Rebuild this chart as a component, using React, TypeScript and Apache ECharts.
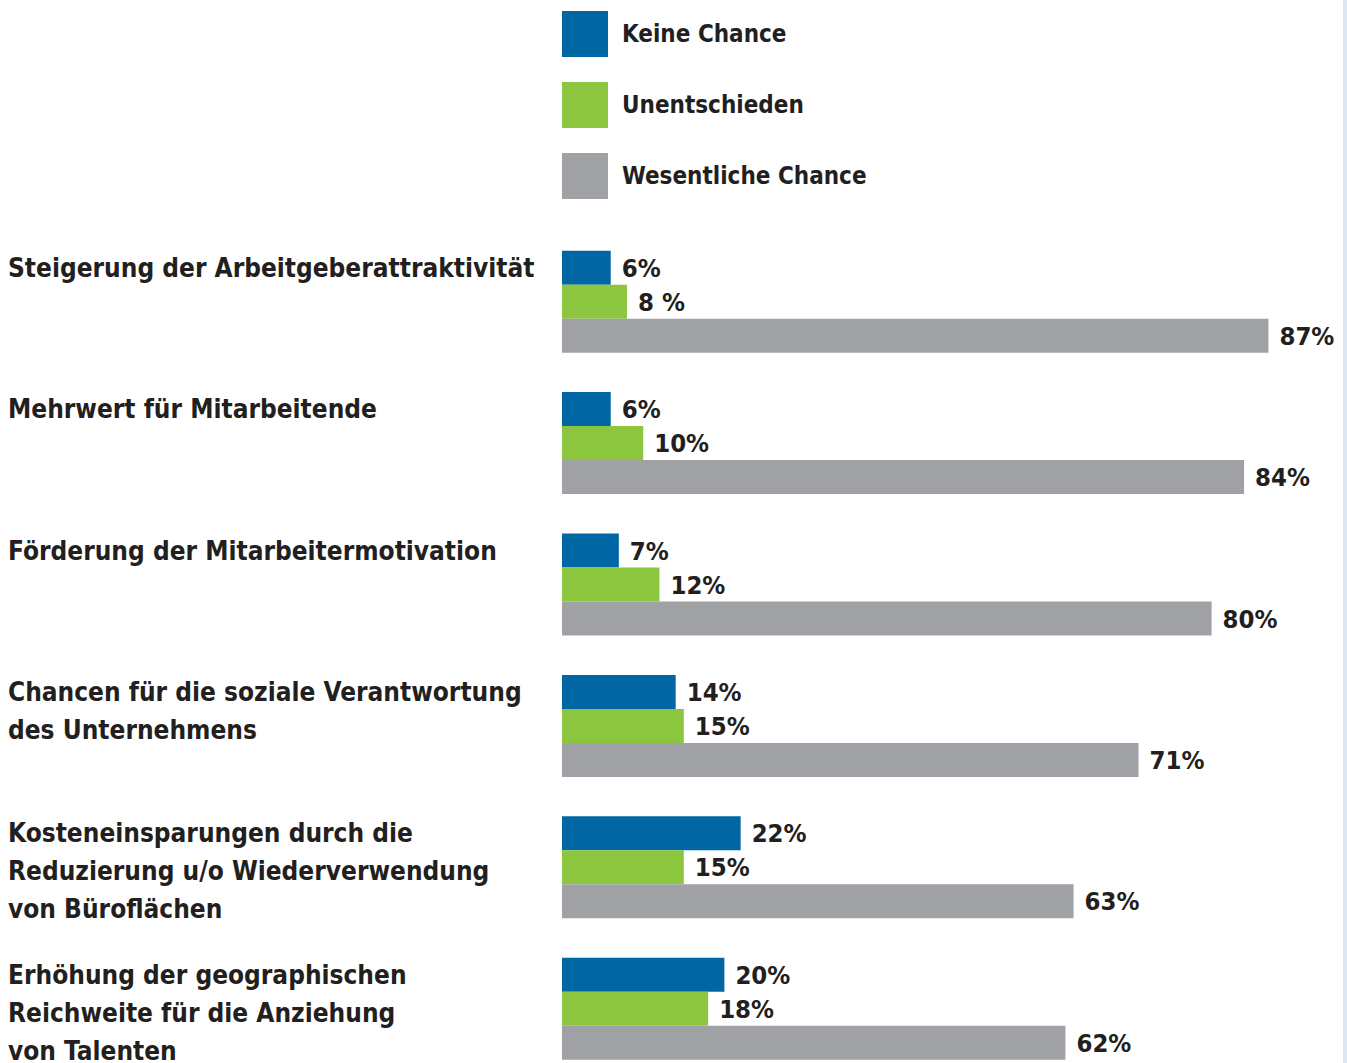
import React, { useEffect, useRef } from "react";
import * as echarts from "echarts";

const categories = [
  "Steigerung der Arbeitgeberattraktivität",
  "Mehrwert für Mitarbeitende",
  "Förderung der Mitarbeitermotivation",
  "Chancen für die soziale Verantwortung\ndes Unternehmens",
  "Kosteneinsparungen durch die\nReduzierung u/o Wiederverwendung\nvon Büroflächen",
  "Erhöhung der geographischen\nReichweite für die Anziehung\nvon Talenten",
];
const seriesNames = ["Keine Chance", "Unentschieden", "Wesentliche Chance"];
const keineChance = [6, 6, 7, 14, 22, 20];
const unentschieden = [8, 10, 12, 15, 15, 18];
const wesentlicheChance = [87, 84, 80, 71, 63, 62];
const keineLabels = ["6%", "6%", "7%", "14%", "22%", "20%"];
const unentschiedenLabels = ["8 %", "10%", "12%", "15%", "15%", "18%"];
const wesentlicheLabels = ["87%", "84%", "80%", "71%", "63%", "62%"];

const FONT = "'DejaVu Sans Condensed', 'Liberation Sans Narrow', sans-serif";
const TEXT = "#231f20";
const COLORS = ["#0066a4", "#8cc63f", "#a0a1a5"];

export default function App() {
  const ref = useRef<HTMLDivElement>(null);
  useEffect(() => {
    document.body.style.margin = "0";
    const chart = echarts.init(ref.current!, null, { renderer: "svg" });
    const values = [keineChance, unentschieden, wesentlicheChance];
    const labels = [keineLabels, unentschiedenLabels, wesentlicheLabels];
    chart.setOption({
      animation: false,
      textStyle: { fontFamily: FONT },
      legend: {
        orient: "vertical",
        left: 562,
        top: 11,
        padding: 0,
        itemWidth: 46,
        itemHeight: 46,
        itemGap: 25,
        icon: "rect",
        data: seriesNames,
        selectedMode: false,
        textStyle: {
          fontFamily: FONT,
          fontSize: 24,
          fontWeight: "bold",
          color: TEXT,
          padding: [2, 0, 0, 9],
        },
      },
      graphic: [
        {
          type: "rect",
          right: 0,
          top: 0,
          shape: { width: 4, height: 1063 },
          style: { fill: "#dde7f2" },
          silent: true,
        },
      ],
      grid: {
        left: 562,
        top: 231,
        width: 812,
        height: 848.4,
        containLabel: false,
        outerBoundsMode: "none",
      },
      xAxis: {
        type: "value",
        min: 0,
        max: 100,
        show: false,
      },
      yAxis: {
        type: "category",
        data: categories,
        inverse: true,
        axisLine: { show: false },
        axisTick: { show: false },
        splitLine: { show: false },
        axisLabel: {
          interval: 0,
          align: "left",
          verticalAlign: "top",
          margin: 554,
          padding: [-53, 0, 0, 0],
          lineHeight: 38,
          overflow: "none",
          fontFamily: FONT,
          fontSize: 26,
          fontWeight: "bold",
          color: TEXT,
        },
      },
      series: seriesNames.map((name, si) => ({
        name,
        type: "bar",
        data: values[si],
        barWidth: 34,
        barGap: "0%",
        itemStyle: { color: COLORS[si] },
        label: {
          show: true,
          position: "right",
          distance: 11,
          fontFamily: FONT,
          fontSize: 25.5,
          fontWeight: "bold",
          color: TEXT,
          formatter: (p: any) => labels[si][p.dataIndex],
        },
      })),
    });
    return () => chart.dispose();
  }, []);
  return <div ref={ref} style={{ width: 1347, height: 1063 }} />;
}
